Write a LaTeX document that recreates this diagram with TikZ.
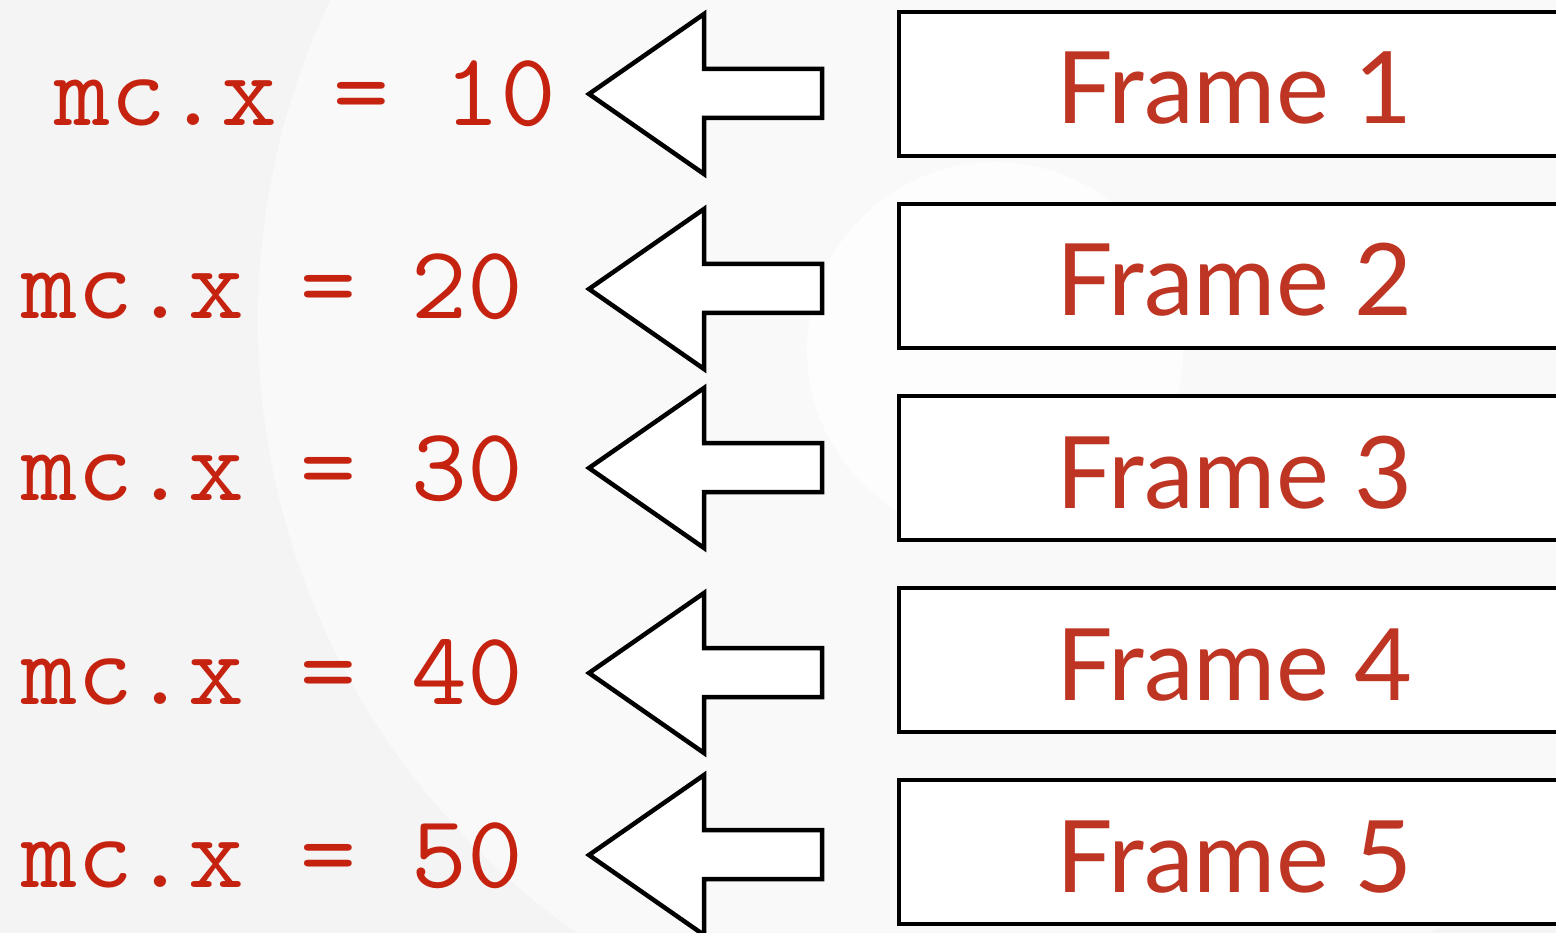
\documentclass[tikz,border=0pt]{standalone}
\usepackage{fontspec}
\newfontfamily\framefont{Lato}
\definecolor{codered}{RGB}{197,34,16}
\definecolor{framered}{RGB}{191,53,36}
\definecolor{bgA}{RGB}{244,244,244}
\definecolor{bgB}{RGB}{249,249,249}
\definecolor{bgC}{RGB}{253,253,253}
\begin{document}
\begin{tikzpicture}[x=1pt,y=-1pt,
  code/.style={font=\ttfamily\fontsize{104}{104}\selectfont, text=codered, anchor=base west, inner sep=0pt},
  frametext/.style={font=\framefont\fontsize{100}{100}\selectfont, text=framered, anchor=base west, inner sep=0pt},
  framebox/.style={draw=black, line width=4.5pt, fill=white, minimum width=720pt, minimum height=144pt, anchor=west, inner sep=0pt, outer sep=0pt},
  blockarrow/.style={draw=black, line width=4.5pt, fill=white, line join=miter}]
\useasboundingbox (0,0) rectangle (1556,933);
\clip (0,0) rectangle (1556,933);
\fill[bgA] (0,0) rectangle (1556,933);
\fill[bgB] (1004,321) circle (746pt);
\fill[bgC] (995,350) circle (188pt);
\foreach \i/\ay/\cb/\by/\fb/\cx/\val in {1/94/126/84/124/54/10, 2/289/319/276/316/21/20, 3/468/500/468/508/21/30, 4/673/704/660/700/21/40, 5/855/887/852/892/21/50}{
  \node[framebox] (box\i) at (899,\by) {};
  \node[frametext] (lbl\i) at (1056,\fb) {Frame \i};
  \node[code] (val\i) at (\cx,\cb) {\scalebox{1.042}[1]{mc.x = \val}};
  \draw[blockarrow] (589,\ay) -- (704,{\ay-80}) -- (704,{\ay-25}) -- (822,{\ay-25})
     -- (822,{\ay+24}) -- (704,{\ay+24}) -- (704,{\ay+80}) -- cycle;
}
\end{tikzpicture}
\end{document}
